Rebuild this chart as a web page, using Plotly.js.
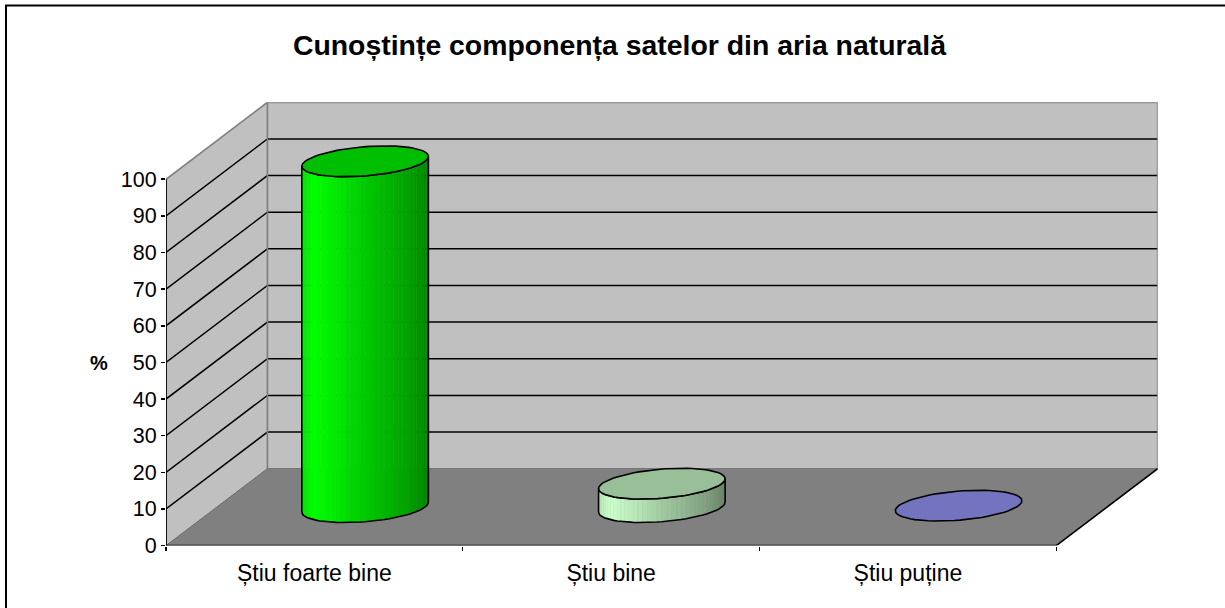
<!DOCTYPE html>
<html>
<head>
<meta charset="utf-8">
<script src="https://cdn.plot.ly/plotly-3.0.1.min.js"></script>
<style>html,body{margin:0;padding:0;background:#fff;overflow:hidden}</style>
</head>
<body>
<div id="chart" style="width:1225px;height:608px"></div>
<script>
const categories = ['Știu foarte bine', 'Știu bine', 'Știu puține'];
const values = [94.4, 6.4, 0.4];
const yTicks = [0, 10, 20, 30, 40, 50, 60, 70, 80, 90, 100];
const gridValues = [10, 20, 30, 40, 50, 60, 70, 80, 90];
const catTicks = [0, 1, 2, 3];
const titleText = 'Cunoștințe componența satelor din aria naturală';
const yLabel = '%';
const baseColors = [[0, 255, 0], [204, 255, 204], [153, 153, 255]];

// oblique projection: depth 1 shifts this far in axis units
const DX = 0.3418, DY = 21.0;
const W = 1225, H = 608;
const plotL = 166, plotR = 1157.7, plotT = 102.3, plotB = 545.6;
const xMax = 3 + DX, yMax = 121.0;
const proj = (c, d, v) => [c + d * DX, v + d * DY];
const FONT = '"Liberation Sans", Arial, sans-serif';

const traces = [];
function poly(pts, fill, line, lw) {
  traces.push({
    x: pts.map(p => p[0]), y: pts.map(p => p[1]), type: 'scatter',
    mode: line ? 'lines' : 'none', fill: fill ? 'toself' : 'none',
    fillcolor: fill || undefined,
    line: line ? {color: line, width: lw || 1.5} : undefined,
    hoverinfo: 'skip', showlegend: false
  });
}
// walls
poly([proj(0,0,0), proj(0,1,0), proj(0,1,100), proj(0,0,100), proj(0,0,0)], '#c0c0c0');
poly([proj(0,1,0), proj(3,1,0), proj(3,1,100), proj(0,1,100), proj(0,1,0)], '#c0c0c0');
// grid
gridValues.forEach(v => poly([proj(0,0,v), proj(0,1,v), proj(3,1,v)], null, '#000', 1.5));
// wall borders
poly([proj(0,0,100), proj(0,1,100), proj(3,1,100), proj(3,1,0)], null, '#808080', 1.7);
poly([proj(0,1,100), proj(0,1,0)], null, '#808080', 1.7);
// floor
poly([proj(0,0,0), proj(3,0,0), proj(3,1,0), proj(0,1,0), proj(0,0,0)], '#808080');
poly([proj(0,1,0), proj(3,1,0)], null, '#777777', 1.2);
poly([proj(0,0,0), proj(0,1,0)], null, '#6a6a6a', 1.0);
// axes lines
poly([proj(0,0,0), proj(3,0,0), proj(3,1,0)], null, '#000', 1.6);
poly([proj(0,0,0), proj(0,0,100)], null, '#000', 1.8);

// cylinders
const stops = [[0,.90],[.1,1],[.3,.90],[.5,.79],[.7,.70],[.85,.63],[1,.52]];
function bright(u){
  for (let i = 1; i < stops.length; i++) if (u <= stops[i][0]) {
    const a = stops[i-1], b = stops[i];
    return a[1] + (b[1]-a[1]) * (u-a[0]) / (b[0]-a[0]);
  }
  return stops[stops.length-1][1];
}
const rc = 0.202, rd = 0.2;
const phi = Math.atan2(rd * DX, rc);
values.forEach((val, i) => {
  const cx = i + 0.5, dep = 0.5, base = baseColors[i];
  const pt = (th, v) => proj(cx + rc * Math.cos(th), dep + rd * Math.sin(th), v);
  const col = k => 'rgb(' + base.map(c => Math.round(c * k)).join(',') + ')';
  const N = 40;
  const th = j => phi + Math.PI + Math.PI * j / N;
  if (val > 1) {
    for (let j = 0; j < N; j++) {
      const a = th(j), b = th(j + 1);
      const xa = pt(a, 0)[0], xb = pt(b, 0)[0], xl = pt(th(0), 0)[0], xr = pt(th(N), 0)[0];
      const u = ((xa + xb) / 2 - xl) / (xr - xl);
      poly([pt(a,0), pt(b,0), pt(b,val), pt(a,val), pt(a,0)], col(bright(u)), col(bright(u)), 0.5);
    }
    const outline = [];
    for (let j = 0; j <= N; j++) outline.push(pt(th(j), 0));
    outline.push(pt(th(N), val));
    for (let j = N; j >= 0; j--) outline.push(pt(th(j), val));
    outline.push(pt(th(0), 0));
    poly(outline, null, '#000', 1.6);
  }
  const cap = [];
  for (let j = 0; j <= 72; j++) cap.push(pt(j / 72 * 2 * Math.PI, val));
  poly(cap, col(0.75), '#000', 1.6);
});

const layout = {
  width: W, height: H,
  margin: {l: 0, r: 0, t: 0, b: 0},
  paper_bgcolor: '#fff', plot_bgcolor: 'rgba(0,0,0,0)',
  showlegend: false,
  font: {family: FONT, color: '#000', size: 19},
  title: {text: titleText, x: 619.5 / W, xanchor: 'center', y: 1 - 45 / H, yanchor: 'middle',
          font: {family: FONT, size: 28.4, color: '#000', weight: 'bold'}},
  xaxis: {
    domain: [plotL / W, plotR / W], range: [0, xMax], showgrid: false, zeroline: false, showline: false,
    tickmode: 'array', tickvals: categories.map((c, i) => i + 0.5), ticktext: categories,
    ticks: 'outside', ticklen: 7, tickcolor: 'rgba(0,0,0,0)', tickfont: {family: FONT, size: 23, color: '#000'},
    minor: {tickmode: 'array', tickvals: catTicks, ticks: 'outside', ticklen: 4, tickwidth: 1.3, tickcolor: '#000', showgrid: false}
  },
  yaxis: {
    domain: [1 - plotB / H, 1 - plotT / H], range: [0, yMax], showgrid: false, zeroline: false, showline: false,
    tickmode: 'array', tickvals: yTicks, ticks: 'outside', ticklen: 4, tickwidth: 1.5, tickcolor: '#000',
    tickfont: {family: FONT, size: 21.5, color: '#000'}
  },
  annotations: [{
    text: yLabel, xref: 'paper', yref: 'paper', x: 98.5 / W, y: 1 - 363 / H, showarrow: false,
    xanchor: 'center', yanchor: 'middle', font: {family: FONT, size: 20, color: '#000', weight: 'bold'}
  }],
  shapes: [{type: 'rect', xref: 'paper', yref: 'paper', x0: 6 / W, x1: 1.02, y0: -0.02, y1: 1 - 5.5 / H,
            line: {color: '#000', width: 2}, fillcolor: 'rgba(0,0,0,0)', layer: 'below'}]
};
Plotly.newPlot('chart', traces, layout, {displayModeBar: false, staticPlot: true});
</script>
</body>
</html>
